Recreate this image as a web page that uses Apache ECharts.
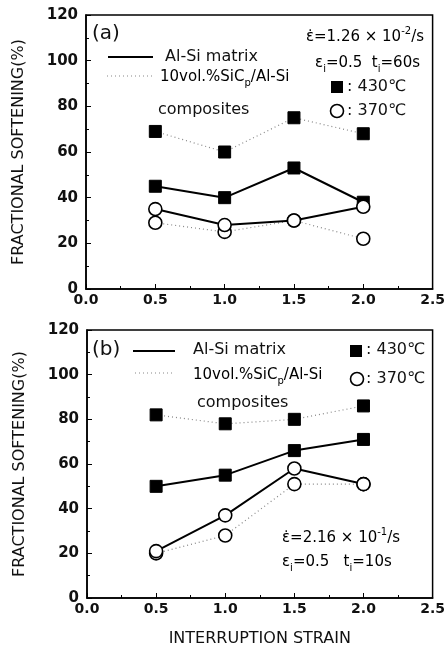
<!DOCTYPE html>
<html>
<head>
<meta charset="utf-8">
<script src="https://cdn.jsdelivr.net/npm/echarts@6/dist/echarts.min.js"></script>
<style>
  html, body { margin: 0; padding: 0; background: #fff; }
  #chart { width: 448px; height: 650px; }
</style>
</head>
<body>
<div id="chart"></div>
<script>
// interruption strain (x)
const strain = [0.5, 1.0, 1.5, 2.0]
const xTicks = [0.0, 0.5, 1.0, 1.5, 2.0, 2.5]
const yTicks = [0, 20, 40, 60, 80, 100, 120]

// panel (a): 1.26e-2 /s, ti = 60s
const aMatrix430 = [45, 40, 53, 38]
const aComp430 = [69, 60, 75, 68]
const aMatrix370 = [35, 28, 30, 36]
const aComp370 = [29, 25, 30, 22]

// panel (b): 2.16e-1 /s, ti = 10s
const bMatrix430 = [50, 55, 66, 71]
const bComp430 = [82, 78, 80, 86]
const bMatrix370 = [21, 37, 58, 51]
const bComp370 = [20, 28, 51, 51]

const FONT = 'DejaVu Sans'
const chart = echarts.init(document.getElementById('chart'), null, { renderer: 'canvas' })

const pairs = (ys) => strain.map((x, i) => [x, ys[i]])

const xAxisOf = (idx, showName) => ({
  gridIndex: idx,
  type: 'value',
  min: xTicks[0],
  max: xTicks[xTicks.length - 1],
  interval: 0.5,
  name: showName ? 'INTERRUPTION STRAIN' : '',
  nameLocation: 'middle',
  nameGap: 33,
  nameTextStyle: { fontFamily: FONT, fontSize: 16, color: '#111' },
  axisLine: { show: true, lineStyle: { color: '#000', width: 1.5 } },
  axisTick: { show: true, inside: true, length: 5, lineStyle: { color: '#000', width: 1 } },
  minorTick: { show: true, splitNumber: 2, length: 3, lineStyle: { color: '#000' } },
  splitLine: { show: false },
  axisLabel: {
    fontFamily: FONT, fontSize: 14, fontWeight: 'bold', color: '#111', margin: 4,
    formatter: (v) => v.toFixed(1)
  }
})

const yAxisOf = (idx) => ({
  gridIndex: idx,
  type: 'value',
  min: yTicks[0],
  max: yTicks[yTicks.length - 1],
  interval: 20,
  name: 'FRACTIONAL SOFTENING(%)',
  nameLocation: 'middle',
  nameGap: 59,
  nameTextStyle: { fontFamily: FONT, fontSize: 16, color: '#111' },
  axisLine: { show: true, lineStyle: { color: '#000', width: 1.5 } },
  axisTick: { show: true, inside: true, length: 5, lineStyle: { color: '#000', width: 1 } },
  minorTick: { show: true, splitNumber: 2, length: 3, lineStyle: { color: '#000' } },
  splitLine: { show: false },
  axisLabel: { fontFamily: FONT, fontSize: 15, fontWeight: 'bold', color: '#111', margin: 8 }
})

const solid = (name, idx, data, sym) => ({
  name, type: 'line', xAxisIndex: idx, yAxisIndex: idx,
  data: pairs(data),
  symbol: sym === 'sq' ? 'rect' : 'circle',
  symbolSize: sym === 'sq' ? 12 : 13,
  itemStyle: sym === 'sq'
    ? { color: '#000', borderColor: '#000', borderWidth: 1 }
    : { color: '#fff', borderColor: '#000', borderWidth: 1.6 },
  lineStyle: { color: '#000', width: 2 },
  animation: false, silent: true
})

const dotted = (name, idx, data, sym) => Object.assign(solid(name, idx, data, sym), {
  lineStyle: { color: '#888', width: 1.2, type: [1, 3] }
})

// rich text styles for the strain-rate notes
const rich = {
  m: { fontFamily: FONT, fontSize: 15, color: '#111', lineHeight: 22 },
  sup: { fontFamily: FONT, fontSize: 10, color: '#111', verticalAlign: 'top', lineHeight: 22 },
  sub: { fontFamily: FONT, fontSize: 10, color: '#111', verticalAlign: 'bottom', lineHeight: 18 }
}

const txt = (x, y, text, size, align) => ({
  type: 'text', x, y, silent: true,
  style: { text, fontFamily: FONT, fontSize: size || 16, fill: '#111', align: align || 'left', verticalAlign: 'middle' }
})
const richTxt = (x, y, text, align) => ({
  type: 'text', x, y, silent: true,
  style: { text, rich, align: align || 'left', verticalAlign: 'middle' }
})
const legLine = (x1, x2, y, dot) => ({
  type: 'line', silent: true,
  shape: { x1, y1: y, x2, y2: y },
  style: dot ? { stroke: '#888', lineWidth: 1.2, lineDash: [1, 3] } : { stroke: '#000', lineWidth: 2 }
})
const sq = (x, y) => ({ type: 'rect', silent: true, shape: { x: x - 6, y: y - 6, width: 12, height: 12 }, style: { fill: '#000' } })
const ring = (x, y) => ({ type: 'circle', silent: true, shape: { cx: x, cy: y, r: 6.5 }, style: { fill: '#fff', stroke: '#000', lineWidth: 1.6 } })

const graphics = [
  // panel (a)
  txt(92, 34, '(a)', 20),
  legLine(108, 153, 57, false),
  txt(165, 57, 'Al-Si matrix'),
  legLine(107, 152, 76, true),
  richTxt(160, 77, '{m|10vol.%SiC}{sub|p}{m|/Al-Si}'),
  txt(158, 110, 'composites'),
  richTxt(424, 37, '{m|ε̇=1.26 × 10}{sup|-2}{m|/s}', 'right'),
  richTxt(420, 63, '{m|ε}{sub|i}{m|=0.5  t}{sub|i}{m|=60s}', 'right'),
  sq(337, 87), txt(347, 87, ': 430℃'),
  ring(337, 111), txt(347, 111, ': 370℃'),
  // panel (b)
  txt(92, 350, '(b)', 20),
  legLine(133, 175, 351, false),
  txt(193, 350, 'Al-Si matrix'),
  legLine(135, 175, 373, true),
  richTxt(193, 375, '{m|10vol.%SiC}{sub|p}{m|/Al-Si}'),
  txt(197, 403, 'composites'),
  sq(356, 351), txt(366, 350, ': 430℃'),
  ring(357, 379), txt(366, 379, ': 370℃'),
  richTxt(282, 538, '{m|ε̇=2.16 × 10}{sup|-1}{m|/s}'),
  richTxt(282, 562, '{m|ε}{sub|i}{m|=0.5   t}{sub|i}{m|=10s}')
]

const option = {
  backgroundColor: '#fff',
  animation: false,
  grid: [
    { left: 86, top: 15, width: 347, height: 274, show: true, borderColor: '#000', borderWidth: 1.5, backgroundColor: 'transparent' },
    { left: 87, top: 330, width: 348, height: 268, show: true, borderColor: '#000', borderWidth: 1.5, backgroundColor: 'transparent' }
  ],
  xAxis: [xAxisOf(0, false), xAxisOf(1, true)],
  yAxis: [yAxisOf(0), yAxisOf(1)],
  series: [
    dotted('a comp 430', 0, aComp430, 'sq'),
    dotted('a comp 370', 0, aComp370, 'ci'),
    solid('a matrix 430', 0, aMatrix430, 'sq'),
    solid('a matrix 370', 0, aMatrix370, 'ci'),
    dotted('b comp 430', 1, bComp430, 'sq'),
    dotted('b comp 370', 1, bComp370, 'ci'),
    solid('b matrix 430', 1, bMatrix430, 'sq'),
    solid('b matrix 370', 1, bMatrix370, 'ci')
  ],
  graphic: graphics
}

chart.setOption(option)
</script>
</body>
</html>
